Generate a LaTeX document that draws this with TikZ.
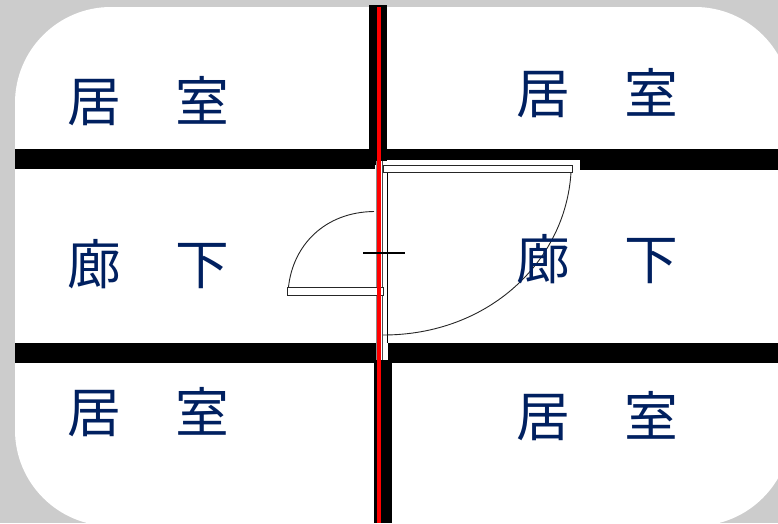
\documentclass[tikz,border=0pt]{standalone}
\usepackage{fontspec}
\newfontfamily\cjk{Noto Sans CJK JP}
\definecolor{labelblue}{HTML}{002060}
\definecolor{bggrey}{HTML}{CCCCCC}
\definecolor{redline}{HTML}{FF0000}
\tikzset{
  wall/.style={fill=black,draw=none},
  leaf/.style={fill=white,draw=black!85,line width=1.2pt},
  swing/.style={draw=black!85,line width=0.9pt},
  roomlabel/.style={font=\cjk\fontsize{53.7}{53.7}\selectfont,text=labelblue,inner sep=0pt,anchor=center},
}
\begin{document}
\begin{tikzpicture}[x=1pt,y=-1pt]
\useasboundingbox (0,0) rectangle (778,523);
\clip (0,0) rectangle (778,523);
\fill[bggrey] (0,0) rectangle (778,523);
\fill[white,rounded corners=96pt] (15,7) rectangle (791,526);
% walls
\fill[wall] (369,4.5) rectangle (387,165);
\fill[wall] (15,149) rectangle (375,169);
\fill[wall] (387,149) rectangle (778,160);
\fill[wall] (580,149) rectangle (778,170);
\fill[wall] (15,343) rectangle (376,363);
\fill[wall] (388,343) rectangle (778,363);
\fill[wall] (373.5,360) rectangle (392,523);
% door frame
\fill[white] (376,160.5) rectangle (388,360);
\draw[black!45,line width=0.8pt] (376.3,160.5) -- (376.3,360);
\draw[black,line width=1.1pt] (387.8,170) -- (387.8,343);
\draw[black!70,line width=0.9pt] (382.8,160.5) -- (382.8,360);
% swings
\draw[swing] (571,172) .. controls (566,260) and (490,335) .. (383,335);
\draw[swing] (288.5,287) .. controls (293,245) and (325,212) .. (374,211.5);
% leaves
\node[leaf,inner sep=0pt,minimum width=189pt,minimum height=6.5pt,anchor=north west] (upperleaf) at (383,165.2) {};
\node[leaf,inner sep=0pt,minimum width=96pt,minimum height=8pt,anchor=north west] (lowerleaf) at (287,287) {};
% red line
\fill[redline] (376.5,7) rectangle (380.5,523);
\draw[black,line width=1.2pt] (363,253) -- (405,253);
% labels
\node[roomlabel] (a) at (148.3,101) {居　室};
\node[roomlabel] (b) at (597.5,93) {居　室};
\node[roomlabel] (c) at (148.3,264) {廊　下};
\node[roomlabel] (d) at (597.5,259) {廊　下};
\node[roomlabel] (e) at (148.3,412) {居　室};
\node[roomlabel] (f) at (597.5,416) {居　室};
\end{tikzpicture}
\end{document}
